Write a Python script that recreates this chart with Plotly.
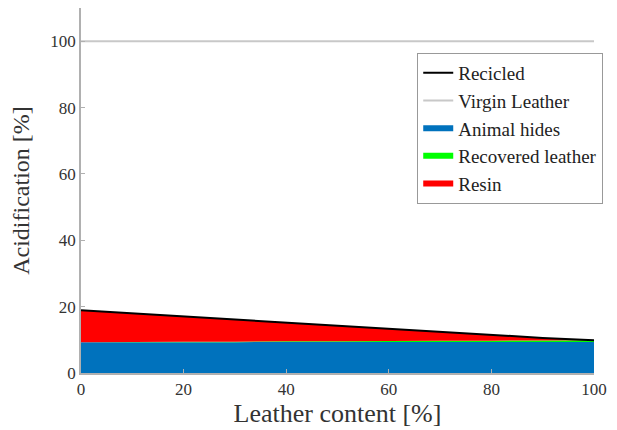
import plotly.graph_objects as go

# Leather content (%) of the recycled material
leather_content = [0, 10, 20, 30, 40, 50, 60, 70, 80, 90, 100]

# Acidification contributions (% of virgin leather)
animal_hides = [9.3, 9.3, 9.3, 9.3, 9.35, 9.35, 9.35, 9.35, 9.35, 9.35, 9.35]
recovered_leather = [0.0, 0.05, 0.1, 0.15, 0.2, 0.25, 0.3, 0.35, 0.4, 0.45, 0.5]
resin = [9.6, 8.62, 7.64, 6.66, 5.68, 4.7, 3.72, 2.74, 1.76, 0.78, 0.05]
recycled_total = [a + b + c for a, b, c in zip(animal_hides, recovered_leather, resin)]
virgin_leather = [100] * len(leather_content)

SERIF = "Liberation Serif"

fig = go.Figure()

fig.add_trace(go.Scatter(
    x=leather_content, y=animal_hides, name="Animal hides",
    stackgroup="acid", mode="none", fillcolor="#0072BD", legendrank=3,
))
fig.add_trace(go.Scatter(
    x=leather_content, y=recovered_leather, name="Recovered leather",
    stackgroup="acid", mode="none", fillcolor="#00FF00", legendrank=4,
))
fig.add_trace(go.Scatter(
    x=leather_content, y=resin, name="Resin",
    stackgroup="acid", mode="none", fillcolor="#FF0000", legendrank=5,
))
fig.add_trace(go.Scatter(
    x=leather_content, y=recycled_total, name="Recicled",
    mode="lines", line=dict(color="black", width=2), legendrank=1,
))
fig.add_trace(go.Scatter(
    x=leather_content, y=virgin_leather, name="Virgin Leather",
    mode="lines", line=dict(color="#c8c8c8", width=2), legendrank=2,
))

fig.update_layout(
    width=617, height=430,
    margin=dict(l=81, r=23, t=8, b=57),
    paper_bgcolor="white", plot_bgcolor="white",
    showlegend=True,
    legend=dict(
        x=1.018, y=0.877, xanchor="right", yanchor="top",
        bgcolor="white", bordercolor="#999999", borderwidth=1,
        font=dict(family=SERIF, size=19, color="#222222"),
        traceorder="normal", itemwidth=30,
        tracegroupgap=0,
    ),
)

fig.update_xaxes(
    range=[0, 100], tickvals=[0, 20, 40, 60, 80, 100],
    showline=True, linecolor="#b0b0b0", linewidth=1.5,
    ticks="inside", ticklen=4, tickcolor="#b0b0b0",
    showgrid=False, zeroline=False,
    tickfont=dict(family=SERIF, size=17, color="#333333"),
    title_text="Leather content [%]",
    title_font=dict(family=SERIF, size=26, color="#333333"),
    title_standoff=3,
)
fig.update_yaxes(
    range=[0, 110], tickvals=[0, 20, 40, 60, 80, 100],
    showline=True, linecolor="#b0b0b0", linewidth=1.5,
    ticks="inside", ticklen=4, tickcolor="#b0b0b0",
    showgrid=False, zeroline=False,
    tickfont=dict(family=SERIF, size=17, color="#333333"),
    title_text="Acidification [%]",
    title_font=dict(family=SERIF, size=24, color="#333333"),
    title_standoff=14,
)

fig.write_html("out.html")
